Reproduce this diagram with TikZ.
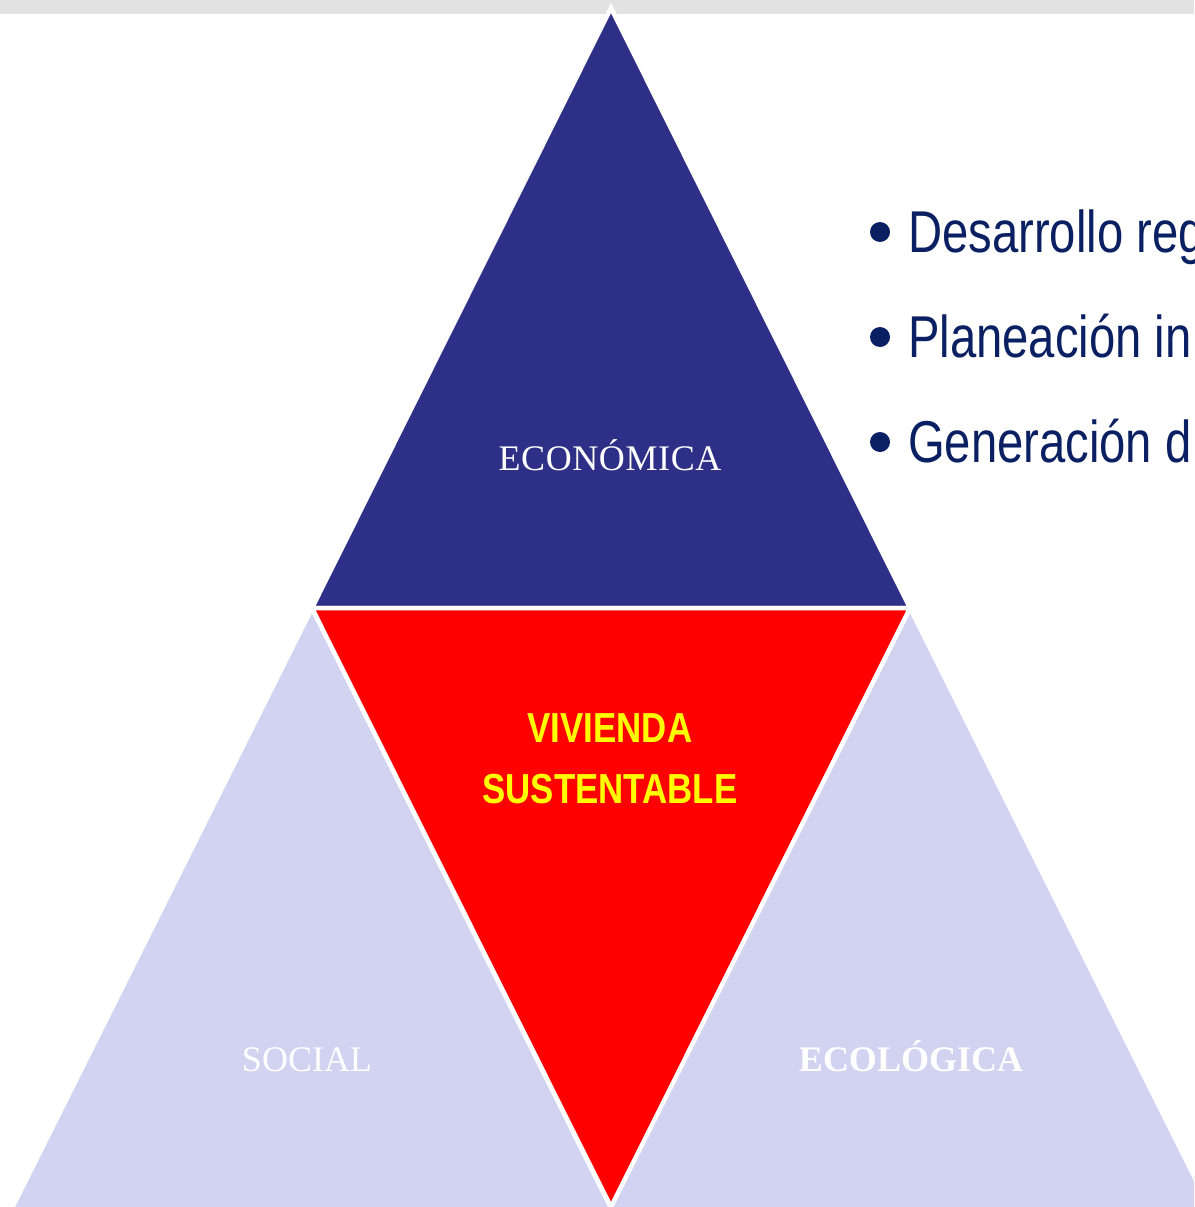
\documentclass[tikz,border=0pt]{standalone}
\usepackage{fontspec}
\setmainfont{Liberation Serif}
\newfontfamily\narrowsans[FakeStretch=0.8]{Liberation Sans}
\newfontfamily\vivfont[FakeStretch=0.83]{Liberation Sans}
\definecolor{ecoblue}{HTML}{2E2F87}
\definecolor{lav}{HTML}{D2D3F0}
\definecolor{bandgray}{HTML}{E2E2E2}
\definecolor{navytext}{HTML}{0A2062}
\definecolor{vivred}{HTML}{FF0000}
\definecolor{vivyellow}{HTML}{FFFF00}
\begin{document}
\begin{tikzpicture}[x=1pt,y=-1pt,
  tri/.style={draw=white,line width=4.5pt,line join=miter},
  serifwhite/.style={text=white,inner sep=0pt,anchor=base,font=\fontsize{36}{36}\selectfont},
  bullettext/.style={text=navytext,inner sep=0pt,anchor=base west,font=\narrowsans\fontsize{59}{59}\selectfont},
  bulletdot/.style={fill=navytext,draw=none,circle,minimum size=20pt,inner sep=0pt},
  vivtext/.style={text=vivyellow,inner sep=0pt,anchor=base,font=\vivfont\bfseries\fontsize{42}{42}\selectfont}]
\useasboundingbox (0,0) rectangle (1194,1207);
\clip (0,0) rectangle (1194,1207);
\fill[white] (0,0) rectangle (1194,1207);
\fill[bandgray] (0,0) rectangle (1194,14);
% vertices
\coordinate (A) at (611,8);
\coordinate (B) at (312,608);
\coordinate (C) at (910,608);
\coordinate (E) at (611,1207);
\coordinate (DL) at (8.5,1215);
\coordinate (EL) at (614.5,1215);
\coordinate (ER) at (606.5,1215);
\coordinate (FR) at (1213.5,1215);
% triangles
\path[tri,fill=lav] (B) -- (DL) -- (EL) -- cycle;
\path[tri,fill=lav] (C) -- (ER) -- (FR) -- cycle;
\path[tri,fill=ecoblue] (A) -- (B) -- (C) -- cycle;
\path[tri,fill=vivred] (B) -- (C) -- (E) -- cycle;
% labels
\node[serifwhite] (eco) at (610,470) {E\kern0.6pt C\kern0.6pt O\kern0.6pt N\kern0.6pt Ó\kern0.6pt M\kern0.6pt I\kern0.6pt C\kern0.6pt A};
\node[serifwhite] (soc) at (307,1071) {SOCIAL};
\node[serifwhite,font=\bfseries\fontsize{36}{36}\selectfont] (ecol) at (911,1071) {ECOLÓGICA};
\node[vivtext] (viv1) at (610,742) {VIVIENDA};
\node[vivtext] (viv2) at (610,803) {SUSTENTABLE};
% bullets
\node[bulletdot] (b1) at (880,232) {};
\node[bulletdot] (b2) at (880,337) {};
\node[bulletdot] (b3) at (880,442) {};
\node[bullettext] (t1) at (908,252) {Desarrollo reg};
\node[bullettext] (t2) at (908,357) {Planeación in};
\node[bullettext] (t3) at (908,462) {Generación d};
\end{tikzpicture}
\end{document}
